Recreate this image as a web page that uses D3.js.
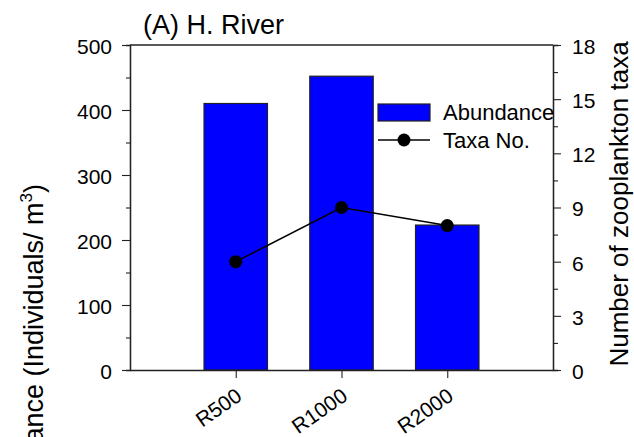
<!DOCTYPE html>
<html><head><meta charset="utf-8">
<script src="https://cdn.jsdelivr.net/npm/d3@7"></script>
<style>
html,body{margin:0;padding:0;background:#fff;overflow:hidden}
text{font-family:Arial,"Liberation Sans",sans-serif;fill:#000}
</style></head>
<body><svg id="c" width="634" height="437"></svg>
<script>
const categories = ["R500", "R1000", "R2000"];
const abundance = [410, 452, 223];
const taxa = [6, 9, 8];
const leftTicks = [0, 100, 200, 300, 400, 500];
const rightTicks = [0, 3, 6, 9, 12, 15, 18];

const svg = d3.select("#c");
const L = 130, R = 553, T = 45, B = 370;
const x = d3.scaleLinear().domain([0, categories.length + 1]).range([L, R]);
const yL = d3.scaleLinear().domain([0, 500]).range([B, T]);
const yR = d3.scaleLinear().domain([0, 18]).range([B, T]);
const bw = x(0.6) - x(0);

// bars
svg.selectAll("rect.bar").data(abundance).join("rect").attr("class","bar")
  .attr("x", (d,i) => x(i+1) - bw/2).attr("width", bw)
  .attr("y", d => yL(d)).attr("height", d => B - yL(d))
  .attr("fill", "#0000ff").attr("stroke", "#222").attr("stroke-width", 1.2);

// frame top
svg.append("line").attr("x1",L).attr("x2",R).attr("y1",T).attr("y2",T).attr("stroke","#222").attr("stroke-width",1.3);

// left axis
const gl = svg.append("g").attr("transform",`translate(${L},0)`)
  .call(d3.axisLeft(yL).tickValues(leftTicks).tickSize(8).tickPadding(10).tickSizeOuter(0));
gl.append("g").call(d3.axisLeft(yL).tickValues(d3.range(50,500,100)).tickSize(4).tickFormat(""));
// right axis
const gr = svg.append("g").attr("transform",`translate(${R},0)`)
  .call(d3.axisRight(yR).tickValues(rightTicks).tickSize(8).tickPadding(11).tickSizeOuter(0));
gr.append("g").call(d3.axisRight(yR).tickValues(d3.range(1.5,18,3)).tickSize(5).tickFormat(""));
// bottom axis
const gb = svg.append("g").attr("transform",`translate(0,${B})`)
  .call(d3.axisBottom(x).tickValues([1,2,3]).tickFormat((d)=>categories[d-1]).tickSize(8).tickSizeOuter(0));
gb.selectAll("text").attr("text-anchor","end").attr("dy",null).attr("y",null)
  .attr("transform","translate(7,29) rotate(-35)");

svg.selectAll(".domain").attr("stroke","#222").attr("stroke-width",1.3);
svg.selectAll(".tick line").attr("stroke","#222").attr("stroke-width",1.1);
[gl, gr, gb].forEach(g => g.selectAll("text").style("font-size","21px").attr("fill","#000"));
gl.selectAll("text").attr("dy","0.4em");
gr.selectAll("text").attr("dy","0.4em");

// line series
const line = d3.line().x((d,i)=>x(i+1)).y(d=>yR(d));
svg.append("path").datum(taxa).attr("d", line).attr("fill","none").attr("stroke","#000").attr("stroke-width",1.5);
svg.selectAll("circle.pt").data(taxa).join("circle").attr("class","pt")
  .attr("cx",(d,i)=>x(i+1)).attr("cy",d=>yR(d)).attr("r",6.5).attr("fill","#000");

// legend
svg.append("rect").attr("x",378).attr("y",104).attr("width",52).attr("height",17)
  .attr("fill","#0000ff").attr("stroke","#222").attr("stroke-width",1.2);
svg.append("text").attr("x",443).attr("y",120).style("font-size","22px").text("Abundance");
svg.append("line").attr("x1",378).attr("x2",430).attr("y1",140).attr("y2",140).attr("stroke","#000").attr("stroke-width",1.5);
svg.append("circle").attr("cx",404).attr("cy",140).attr("r",6.5).attr("fill","#000");
svg.append("text").attr("x",443).attr("y",148).style("font-size","22px").text("Taxa No.");

// title
svg.append("text").attr("x",143).attr("y",34).style("font-size","27px").text("(A) H. River");

// axis titles
const lt = svg.append("text").attr("transform","translate(43,184) rotate(-90)")
  .attr("text-anchor","end").style("font-size","27px");
lt.append("tspan").text("Abundance (Individuals/ m");
lt.append("tspan").attr("dy",-11).style("font-size","17px").text("3");
lt.append("tspan").attr("dy",11).text(")");

svg.append("text").attr("transform",`translate(628,204) rotate(-90)`)
  .attr("text-anchor","middle").style("font-size","26px").text("Number of zooplankton taxa");
</script></body></html>
